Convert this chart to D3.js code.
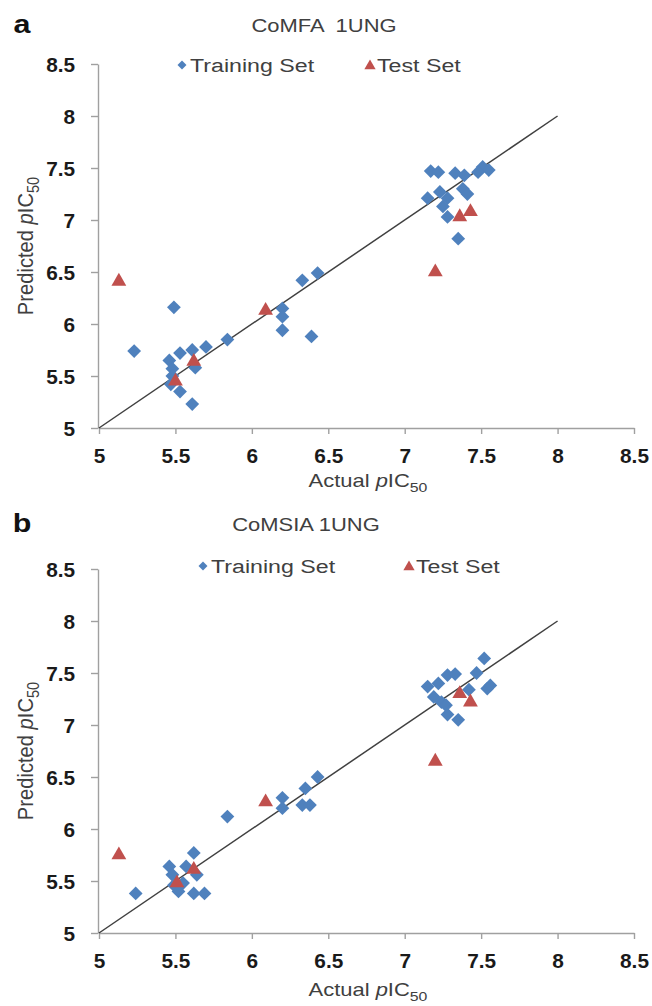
<!DOCTYPE html>
<html>
<head>
<meta charset="utf-8">
<script src="https://cdn.jsdelivr.net/npm/d3@7"></script>
<style>
  body { margin: 0; background: #fff; }
  .tick text { font-family: "Liberation Sans", Arial, sans-serif; font-weight: bold; font-size: 20px; fill: #1a1a1a; }
  .lbl { font-family: "Liberation Sans", Arial, sans-serif; fill: #404040; }
</style>
</head>
<body>
<div id="chart"></div>
<script>
// axis ticks
var tickValues = [5, 5.5, 6, 6.5, 7, 7.5, 8, 8.5];

// CoMFA 1UNG - training set
var comfaTrainActual = [5.23, 5.49, 5.46, 5.48, 5.48, 5.47, 5.53, 5.53, 5.61, 5.63, 5.61, 5.70, 5.84, 6.20, 6.20, 6.20, 6.39, 6.33, 6.43,
    7.17, 7.22, 7.33, 7.39, 7.51, 7.55, 7.48, 7.23, 7.15, 7.28, 7.38, 7.41, 7.25, 7.28, 7.35];
var comfaTrainPred = [5.74, 6.16, 5.65, 5.57, 5.50, 5.42, 5.35, 5.72, 5.75, 5.58, 5.23, 5.78, 5.85, 6.15, 6.07, 5.94, 5.88, 6.42, 6.49,
    7.47, 7.46, 7.45, 7.43, 7.51, 7.48, 7.46, 7.27, 7.21, 7.21, 7.30, 7.25, 7.13, 7.03, 6.82];
// CoMFA 1UNG - test set
var comfaTestActual = [5.13, 6.09, 5.62, 5.50, 7.36, 7.43, 7.20];
var comfaTestPred = [6.41, 6.13, 5.64, 5.45, 7.03, 7.08, 6.50];

// CoMSIA 1UNG - training set
var comsiaTrainActual = [5.24, 5.46, 5.48, 5.49, 5.52, 5.55, 5.57, 5.62, 5.64, 5.62, 5.69, 5.84, 6.20, 6.20, 6.33, 6.38, 6.35, 6.43,
    7.15, 7.22, 7.28, 7.33, 7.19, 7.24, 7.27, 7.28, 7.35, 7.42, 7.47, 7.52, 7.54, 7.56];
var comsiaTrainPred = [5.38, 5.64, 5.56, 5.46, 5.40, 5.48, 5.64, 5.77, 5.56, 5.38, 5.38, 6.12, 6.30, 6.20, 6.23, 6.23, 6.39, 6.50,
    7.37, 7.40, 7.48, 7.49, 7.27, 7.22, 7.19, 7.10, 7.05, 7.34, 7.50, 7.64, 7.35, 7.38];
// CoMSIA 1UNG - test set
var comsiaTestActual = [5.13, 6.09, 5.62, 5.51, 7.36, 7.43, 7.20];
var comsiaTestPred = [5.75, 6.26, 5.61, 5.48, 7.30, 7.22, 6.65];

var blue = "#4f81bd", red = "#c0504d";
var sx = 1.22; // text in the picture is stretched horizontally

var svg = d3.select("#chart").append("svg")
    .attr("width", 652)
    .attr("height", 1006);

var x = d3.scaleLinear().domain([5, 8.5]).range([99, 634]);

var diamond = d3.symbol().type(d3.symbolSquare).size(95);
var triangle = d3.symbol().type(d3.symbolTriangle).size(95);

function label(g, tx, ty, txt, size, weight) {
    return g.append("text")
        .attr("class", "lbl")
        .attr("transform", "translate(" + tx + "," + ty + ") scale(" + sx + ",1)")
        .attr("text-anchor", "middle")
        .style("font-size", size + "px")
        .style("font-weight", weight || "normal")
        .text(txt);
}

function pic50(t, prefix) {
    t.append("tspan").text(prefix + " ");
    t.append("tspan").style("font-style", "italic").text("p");
    t.append("tspan").text("IC");
    t.append("tspan").attr("dy", 5).style("font-size", "13px").text("50");
}

function drawPanel(opt) {
    var y = d3.scaleLinear().domain([5, 8.5]).range([opt.bottom, opt.bottom - 364]);
    var g = svg.append("g");

    // panel letter + title
    label(g, 22, opt.top + 33, opt.letter, 25, "bold").style("fill", "#111");
    label(g, opt.titleX, opt.top + 32, opt.title, 18).style("white-space", "pre");

    // axes
    var xAxis = g.append("g")
        .attr("transform", "translate(0," + opt.bottom + ")")
        .call(d3.axisBottom(x).tickValues(tickValues).tickSize(6).tickSizeOuter(0).tickFormat(d3.format("")));
    xAxis.selectAll(".tick text")
        .attr("y", 35).attr("dy", 0)
        .attr("transform", "scale(1.04,1)");

    var yAxis = g.append("g")
        .attr("transform", "translate(98,0)")
        .call(d3.axisLeft(y).tickValues(tickValues).tickSize(7).tickSizeOuter(0).tickFormat(d3.format("")));
    yAxis.selectAll(".tick text")
        .attr("x", -22).attr("dy", "0.36em")
        .attr("transform", "scale(1.04,1)");

    g.selectAll(".domain, .tick line")
        .attr("stroke", "#a0a0a0")
        .attr("stroke-width", 1.4);

    // axis titles
    var xt = label(g, 368, opt.bottom + opt.xTitleGap, "", 18);
    pic50(xt, "Actual");
    var yt = g.append("text")
        .attr("class", "lbl")
        .attr("transform", "translate(33," + (opt.bottom - 182) + ") rotate(-90) scale(1.12," + sx + ")")
        .attr("text-anchor", "middle")
        .style("font-size", "18px");
    pic50(yt, "Predicted");

    // y = x line
    g.append("line")
        .attr("x1", x(5)).attr("y1", y(5))
        .attr("x2", x(8)).attr("y2", y(8))
        .attr("stroke", "#404040")
        .attr("stroke-width", 1.5);

    // training set
    g.selectAll(".train")
        .data(opt.trainA)
        .enter().append("path")
        .attr("class", "train")
        .attr("d", diamond)
        .attr("fill", blue)
        .attr("transform", function (d, i) {
            return "translate(" + x(d) + "," + y(opt.trainP[i]) + ") rotate(45)";
        });

    // test set
    g.selectAll(".test")
        .data(opt.testA)
        .enter().append("path")
        .attr("class", "test")
        .attr("d", triangle)
        .attr("fill", red)
        .attr("transform", function (d, i) {
            return "translate(" + x(d) + "," + y(opt.testP[i]) + ")";
        });

    // legend
    var ly = opt.legendY;
    g.append("path")
        .attr("d", d3.symbol().type(d3.symbolSquare).size(40))
        .attr("fill", blue)
        .attr("transform", "translate(" + opt.legendX[0] + "," + ly + ") rotate(45)");
    label(g, opt.legendX[0] + 8, ly + 7, "Training Set", 19).attr("text-anchor", "start");
    g.append("path")
        .attr("d", d3.symbol().type(d3.symbolTriangle).size(55))
        .attr("fill", red)
        .attr("transform", "translate(" + opt.legendX[1] + "," + (ly + 1) + ")");
    label(g, opt.legendX[1] + 7, ly + 7, "Test Set", 19).attr("text-anchor", "start");
}

drawPanel({
    letter: "a", title: "CoMFA  1UNG", titleX: 324, top: 0, bottom: 428, xTitleGap: 59,
    legendY: 65, legendX: [182, 370],
    trainA: comfaTrainActual, trainP: comfaTrainPred,
    testA: comfaTestActual, testP: comfaTestPred
});

drawPanel({
    letter: "b", title: "CoMSIA 1UNG", titleX: 306, top: 499, bottom: 933, xTitleGap: 63,
    legendY: 566, legendX: [203, 409],
    trainA: comsiaTrainActual, trainP: comsiaTrainPred,
    testA: comsiaTestActual, testP: comsiaTestPred
});
</script>
</body>
</html>
